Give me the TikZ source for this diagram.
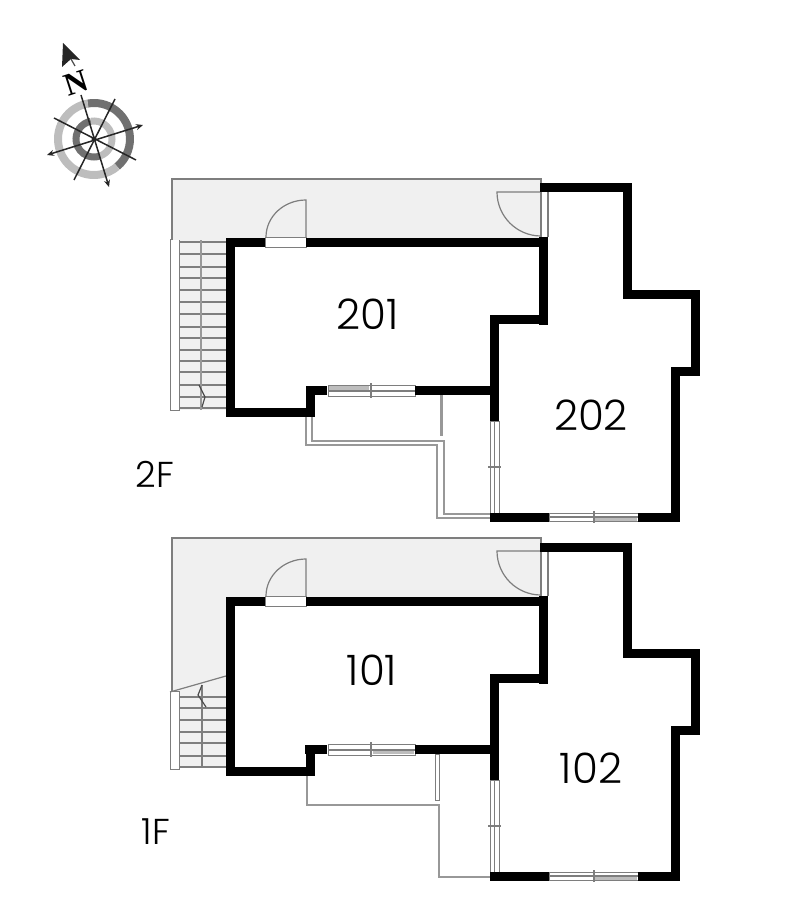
\documentclass[tikz,border=0pt]{standalone}
\usepackage{fontspec}
\setmainfont{Poppins}[UprightFont=* Light]
\newfontfamily\compassfont{Liberation Serif}
\usetikzlibrary{arrows.meta}
\definecolor{zonegray}{HTML}{F0F0F0}
\definecolor{linegray}{HTML}{7E7E7E}
\definecolor{ringdark}{HTML}{707070}
\definecolor{ringlight}{HTML}{BDBDBD}
\tikzset{
  wall/.style={line width=9pt,black},
  thin line/.style={line width=1.2pt,linegray},
  balcony/.style={line width=1.4pt,linegray!80},
  glass/.style={fill=white,draw=linegray,line width=1pt},
  room/.style={font=\fontsize{42}{42}\selectfont},
  floorlabel/.style={font=\fontsize{36}{36}\selectfont},
  needle/.style={line width=1.5pt,black!85},
}
% walls, doors and windows both floors share
\newcommand{\floorplan}{
  \fill[zonegray] (172,179) rectangle (541,240);
  \draw[thin line] (172,240)--(172,179)--(541,179)--(541,237);
  \draw[thin line] (548,190)--(548,237);
  % doors
  \draw[glass] (265,237) rectangle (306,247);
  \draw[thin line] (306,237)--(306,200) arc[start angle=90,end angle=180,x radius=40pt,y radius=37pt];
  \draw[thin line] (541,192)--(497,192) arc[start angle=180,end angle=270,x radius=44pt,y radius=44pt];
  % windows
  \draw[glass] (328,385) rectangle (415,396);
  \draw[glass] (490,421) rectangle (499,513);
  \draw[thin line] (494.5,421)--(494.5,513) (488,467)--(501,467);
  \draw[glass] (549,513) rectangle (638,521);
  \fill[ringlight] (595,517) rectangle (637,520.5);
  \draw[thin line] (549,517)--(638,517) (594,511)--(594,523);
  % walls
  \draw[wall] (327,390.5)--(310,390.5)--(310,412.5)--(230.5,412.5)--(230.5,242)--(265,242);
  \draw[wall] (306,242)--(548,242);
  \draw[wall] (543.5,237)--(543.5,325);
  \draw[wall] (548,319.5)--(494.5,319.5)--(494.5,421);
  \draw[wall] (415,390.5)--(499,390.5);
  \draw[wall] (490,517)--(549,517);
  \draw[wall] (638,517)--(675,517)--(675,371)--(695.5,371)--(695.5,294.5)--(627.5,294.5)--(627.5,188)--(540,188);
}
\begin{document}
\begin{tikzpicture}[x=1pt,y=-1pt]
\useasboundingbox (0,0) rectangle (800,917);

% compass
\coordinate (c) at (94,139);
\draw[ringdark,line width=8pt] (c) ++(100:36pt) arc[start angle=100,end angle=-50,radius=36pt];
\draw[ringlight,line width=8pt] (c) ++(100:36pt) arc[start angle=100,end angle=310,radius=36pt];
\draw[ringdark,line width=7pt] (c) ++(100:18pt) arc[start angle=100,end angle=290,radius=18pt];
\draw[ringlight,line width=7pt] (c) ++(100:18pt) arc[start angle=100,end angle=-70,radius=18pt];
\coordinate (ne) at (81,95);
\coordinate (se) at (109,187);
\coordinate (we) at (47,155);
\coordinate (ee) at (143,125);
\draw[needle,-{Stealth[length=7pt,width=6pt]}] (ne)--(se);
\draw[needle,{Stealth[length=7pt,width=6pt]}-{Stealth[length=7pt,width=6pt]}] (we)--(ee);
\draw[needle] (54,118)--(136,160);
\draw[needle] (115,99)--(74,180);
\fill[black!85] (c) circle (2.5pt);
\fill[black!85] (63,43)--(80,60)--(71,59)--(62,67)--cycle;
\draw[thin line,black!70] (71,59)--(75,66);
\node[rotate=18,font=\compassfont\bfseries\fontsize{32}{32}\selectfont,inner sep=0pt] (north) at (76,83) {N};

% 2F
\fill[zonegray] (179,240) rectangle (226,410);
\foreach \ty in {242,254,267,278,290,302,314,327,338,350,361,372,385,397,408}
  \draw[thin line] (179,\ty)--(226,\ty);
\draw[line width=2pt,linegray!80] (201,240)--(201,410);
\draw[thin line,black!70] (199,385)--(205,397)--(202,407);
\draw[glass] (170,239) rectangle (179,410);
\draw[balcony] (306,417)--(306,445)--(437,445)--(437,518)--(490,518);
\draw[balcony] (312,417)--(312,441)--(444,441)--(444,514)--(490,514);
\draw[line width=3pt,linegray!80] (441,395)--(441,436);
\floorplan
\fill[ringlight] (329,386) rectangle (369,390.5);
\draw[thin line] (328,391)--(415,391) (371,383)--(371,398);

% 1F
\begin{scope}[shift={(0,359)}]
\fill[zonegray] (172,179)--(172,332)--(179,332)--(179,408)--(226,408)--(226,179)--cycle;
\draw[thin line] (172,179)--(172,332);
\foreach \ty in {338,349,361,373,384,397,408}
  \draw[thin line] (179,\ty)--(226,\ty);
\draw[thin line] (202,326)--(202,408);
\draw[thin line,black!70] (202,326)--(198,336)--(206,348);
\draw[glass] (170,332) rectangle (179,410);
\draw[thin line] (170,333)--(226,317);
\draw[balcony] (307,417)--(307,446)--(439,446)--(439,518)--(490,518);
\draw[glass] (435,395) rectangle (439,441);
\floorplan
\fill[ringlight] (373,391) rectangle (414,395);
\draw[thin line] (328,391)--(415,391) (371,383)--(371,398);
\draw[wall] (305,390.5)--(327,390.5);
\end{scope}

% labels
\node[room] (r201) at (368,314) {201};
\node[room] (r202) at (591,415) {202};
\node[room] (r101) at (372,670) {101};
\node[room] (r102) at (591,768) {102};
\node[floorlabel] (f2) at (155,474) {2F};
\node[floorlabel] (f1) at (156,832) {1F};
\end{tikzpicture}
\end{document}
